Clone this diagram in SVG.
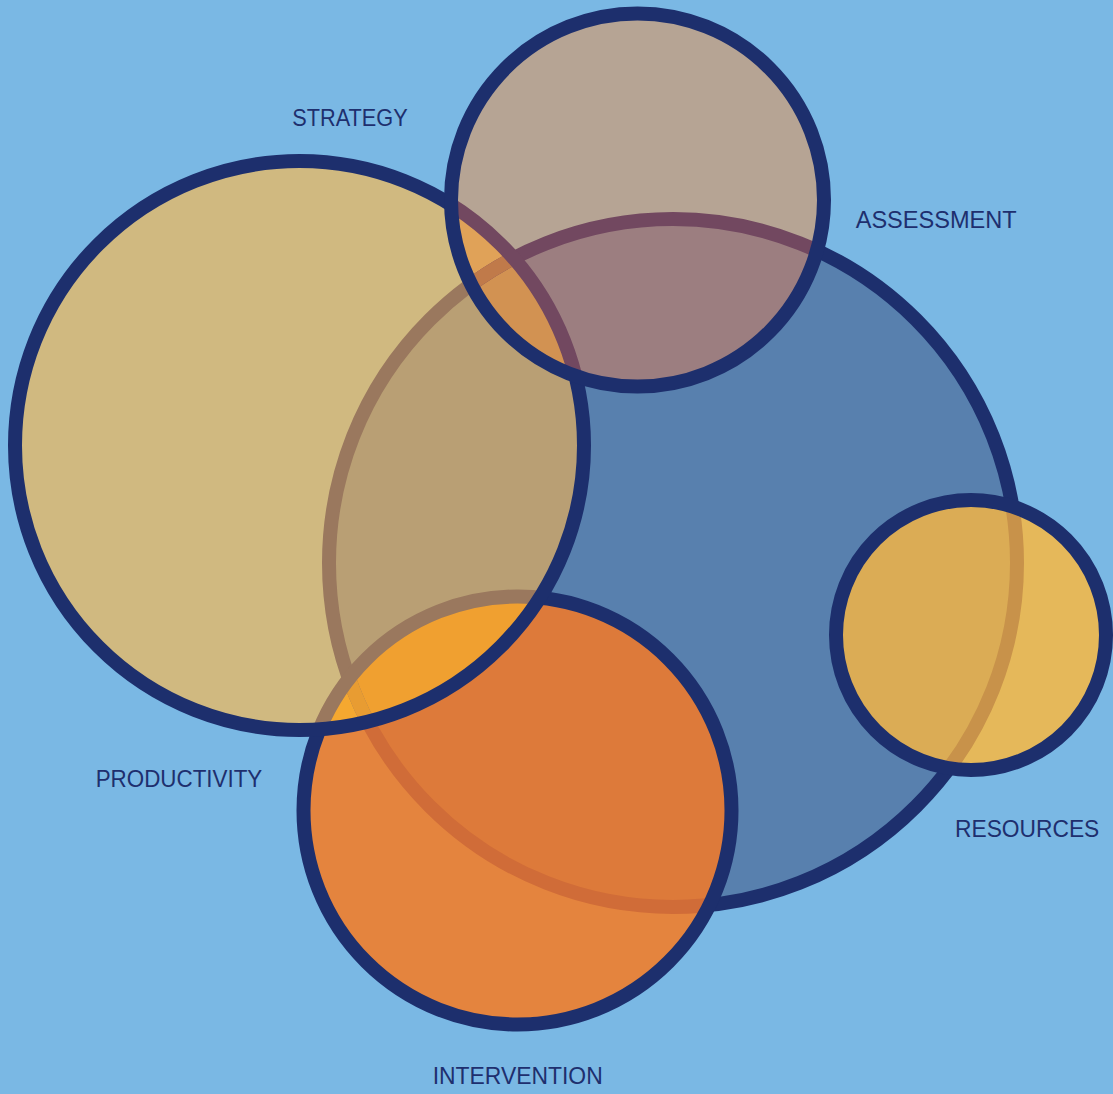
<svg xmlns="http://www.w3.org/2000/svg" xmlns:xlink="http://www.w3.org/1999/xlink" width="1113" height="1094" viewBox="0 0 1113 1094">
<style>
.lbl{font-family:"Liberation Sans",Arial,sans-serif;font-size:24px;fill:#1e2f6e}
.ring{fill:none;stroke-width:14}
.navy{stroke:#1d2f6d}
</style>
<defs>
<circle id="gB" cx="673" cy="563" r="344"/>
<circle id="gI" cx="517.5" cy="810.5" r="214"/>
<circle id="gT" cx="299.5" cy="445.5" r="284.5"/>
<circle id="gA" cx="637.5" cy="200" r="186.5"/>
<circle id="gR" cx="971" cy="635" r="135"/>
<clipPath id="kB"><circle cx="673" cy="563" r="344"/></clipPath>
<clipPath id="kI"><circle cx="517.5" cy="810.5" r="214"/></clipPath>
<clipPath id="kT"><circle cx="299.5" cy="445.5" r="284.5"/></clipPath>
<clipPath id="kA"><circle cx="637.5" cy="200" r="186.5"/></clipPath>
<clipPath id="kR"><circle cx="971" cy="635" r="135"/></clipPath>
</defs>
<rect width="1113" height="1094" fill="#7ab8e4"/>
<g id="productivity">
<use href="#gB" fill="#5880ae"/>
<use href="#gB" class="ring navy"/>
<text class="lbl" x="95.7" y="786.7" textLength="166.6" lengthAdjust="spacingAndGlyphs">PRODUCTIVITY</text>
</g>
<g id="intervention">
<use href="#gI" fill="#e4843e"/>
<use href="#gB" fill="#dd7a3a" clip-path="url(#kI)"/>
<use href="#gB" class="ring" stroke="#d06c38" clip-path="url(#kI)"/>
<use href="#gI" class="ring navy"/>
<text class="lbl" x="432.7" y="1084" textLength="170" lengthAdjust="spacingAndGlyphs">INTERVENTION</text>
</g>
<g id="strategy">
<use href="#gT" fill="#d0b980"/>
<use href="#gB" fill="#b99f74" clip-path="url(#kT)"/>
<use href="#gI" fill="#f5a830" clip-path="url(#kT)"/>
<g clip-path="url(#kT)"><use href="#gI" fill="#f0a030" clip-path="url(#kB)"/></g>
<use href="#gB" class="ring" stroke="#9a785e" clip-path="url(#kT)"/>
<g clip-path="url(#kT)"><use href="#gB" class="ring" stroke="#e89c32" clip-path="url(#kI)"/></g>
<use href="#gI" class="ring" stroke="#9a785e" clip-path="url(#kT)"/>
<use href="#gT" class="ring navy"/>
<text class="lbl" x="292.3" y="125.7" textLength="115.4" lengthAdjust="spacingAndGlyphs">STRATEGY</text>
</g>
<g id="assessment">
<use href="#gA" fill="#b6a494"/>
<use href="#gB" fill="#9c7e80" clip-path="url(#kA)"/>
<use href="#gT" fill="#e0a258" clip-path="url(#kA)"/>
<g clip-path="url(#kA)"><use href="#gT" fill="#d29252" clip-path="url(#kB)"/></g>
<use href="#gB" class="ring" stroke="#724860" clip-path="url(#kA)"/>
<g clip-path="url(#kA)"><use href="#gB" class="ring" stroke="#c07a4a" clip-path="url(#kT)"/></g>
<use href="#gT" class="ring" stroke="#724860" clip-path="url(#kA)"/>
<use href="#gA" class="ring navy"/>
<text class="lbl" x="855.7" y="228.3" textLength="161" lengthAdjust="spacingAndGlyphs">ASSESSMENT</text>
</g>
<g id="resources">
<use href="#gR" fill="#e5b85a"/>
<use href="#gB" fill="#dbac55" clip-path="url(#kR)"/>
<use href="#gB" class="ring" stroke="#c8924a" clip-path="url(#kR)"/>
<use href="#gR" class="ring navy"/>
<text class="lbl" x="955" y="837.3" textLength="144.3" lengthAdjust="spacingAndGlyphs">RESOURCES</text>
</g>
<g id="connectors"/>
</svg>
